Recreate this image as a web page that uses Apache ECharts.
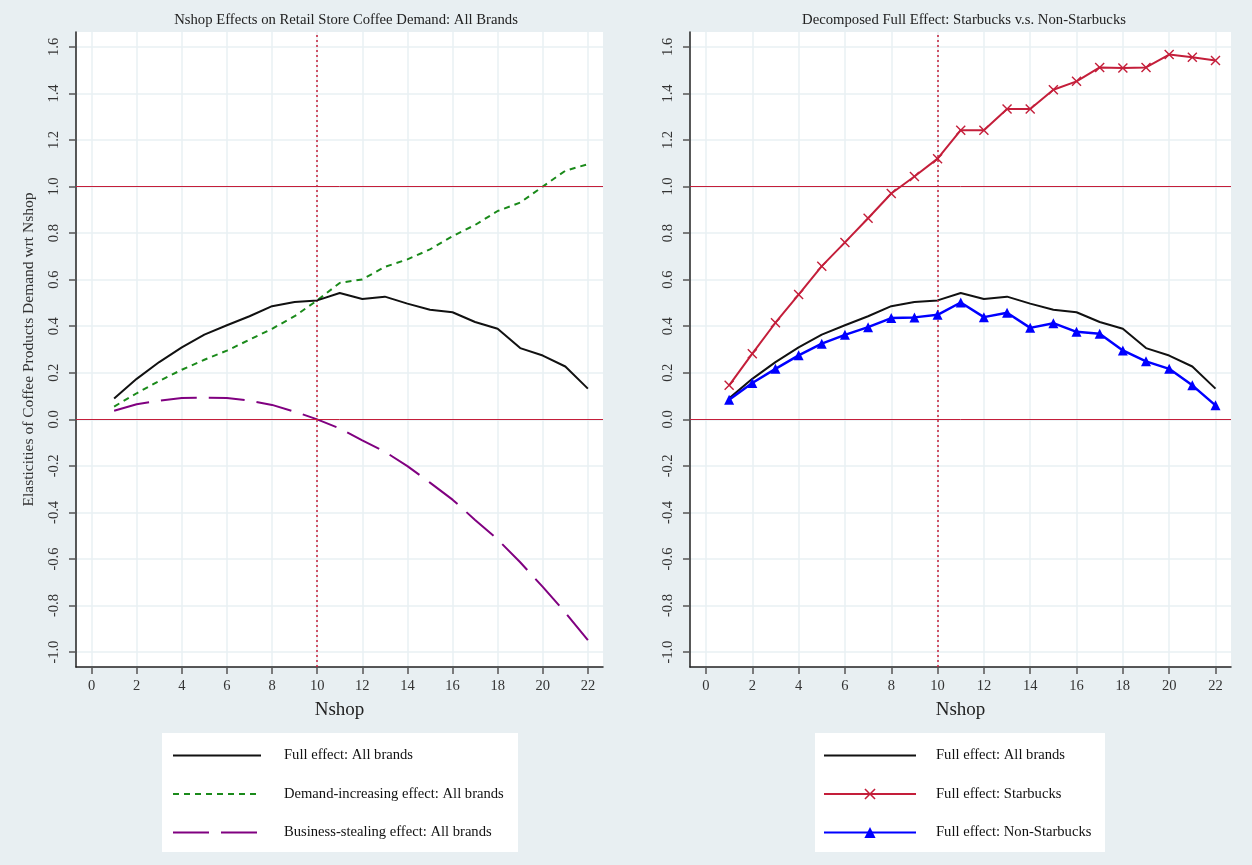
<html>
<head>
<meta charset="utf-8">
<script src="https://cdn.jsdelivr.net/npm/echarts@6/dist/echarts.min.js"></script>
<style>
html, body { margin: 0; padding: 0; background: #e8eff2; }
#main { width: 1252px; height: 865px; }
</style>
</head>
<body>
<div id="main"></div>
<script>
// data
var nshop = [1, 2, 3, 4, 5, 6, 7, 8, 9, 10, 11, 12, 13, 14, 15, 16, 17, 18, 19, 20, 21, 22];
var fullAll = [0.090, 0.174, 0.246, 0.309, 0.364, 0.404, 0.443, 0.486, 0.504, 0.511, 0.543,
    0.517, 0.527, 0.497, 0.471, 0.460, 0.418, 0.389, 0.306, 0.274, 0.227, 0.132];
var demandInc = [0.055, 0.112, 0.165, 0.213, 0.256, 0.295, 0.342, 0.389, 0.443, 0.511, 0.586,
    0.601, 0.655, 0.687, 0.730, 0.787, 0.835, 0.895, 0.931, 1.000, 1.068, 1.096];
var bizSteal = [0.037, 0.065, 0.080, 0.092, 0.093, 0.092, 0.080, 0.062, 0.033, 0.000, -0.039,
    -0.090, -0.139, -0.201, -0.272, -0.345, -0.432, -0.516, -0.614, -0.720, -0.830, -0.949];
var fullStarbucks = [0.146, 0.282, 0.415, 0.536, 0.658, 0.760, 0.864, 0.970, 1.043, 1.120, 1.242,
    1.242, 1.333, 1.333, 1.416, 1.452, 1.512, 1.509, 1.512, 1.567, 1.556, 1.542];
var fullNonStarbucks = [0.084, 0.156, 0.217, 0.275, 0.325, 0.363, 0.396, 0.435, 0.438, 0.449, 0.502,
    0.439, 0.458, 0.393, 0.413, 0.376, 0.368, 0.296, 0.249, 0.217, 0.146, 0.060];
var xTicks = [0, 2, 4, 6, 8, 10, 12, 14, 16, 18, 20, 22];
var yTicks = [-1.0, -0.8, -0.6, -0.4, -0.2, 0.0, 0.2, 0.4, 0.6, 0.8, 1.0, 1.2, 1.4, 1.6];

var serif = 'Liberation Serif';
var refColor = '#c41e3a';
var gridColor = '#e9f1f3';

function pairs(ys) {
    return nshop.map(function (x, i) { return [x, ys[i]]; });
}

function makeX(idx) {
    return {
        type: 'value', gridIndex: idx, min: -0.69, max: 22.67,
        name: 'Nshop', nameLocation: 'middle', nameGap: 34,
        nameTextStyle: { fontFamily: serif, fontSize: 19, color: '#222' },
        axisLine: { onZero: false, lineStyle: { color: '#222', width: 1.5 } },
        axisTick: { customValues: xTicks, length: 7, lineStyle: { color: '#555', width: 1.5 } },
        axisLabel: { customValues: xTicks, margin: 12, fontFamily: serif, fontSize: 14.5, color: '#333' },
        splitLine: { show: true, customValues: xTicks, lineStyle: { color: gridColor, width: 1.5 } }
    };
}

function makeY(idx, withName) {
    return {
        type: 'value', gridIndex: idx, min: -1.064, max: 1.664,
        name: withName ? 'Elasticities of Coffee Products Demand wrt Nshop' : '',
        nameLocation: 'middle', nameGap: 39,
        nameTextStyle: { fontFamily: serif, fontSize: 15.5, color: '#333' },
        axisLine: { show: true, onZero: false, lineStyle: { color: '#222', width: 1.5 } },
        axisTick: { show: true, customValues: yTicks, length: 7, lineStyle: { color: '#555', width: 1.5 } },
        axisLabel: {
            customValues: yTicks, rotate: 90, margin: 14, fontFamily: serif, fontSize: 14.5, color: '#333',
            formatter: function (v) { return v.toFixed(1); }
        },
        splitLine: { show: true, customValues: yTicks, lineStyle: { color: gridColor, width: 1.5 } }
    };
}

function refLines() {
    return {
        silent: true, symbol: 'none', label: { show: false },
        data: [
            { yAxis: 1, lineStyle: { color: refColor, width: 1, type: 'solid' } },
            { yAxis: 0, lineStyle: { color: refColor, width: 1, type: 'solid' } },
            { xAxis: 10, lineStyle: { color: refColor, width: 1.5, type: [2, 3] } }
        ]
    };
}

var crossPath = 'path://M1,0 L5,4 L9,0 L10,1 L6,5 L10,9 L9,10 L5,6 L1,10 L0,9 L4,5 L0,1 Z';
var noMark = { opacity: 0 };

var myChart = echarts.init(document.getElementById('main'));

myChart.setOption({
    backgroundColor: '#e8eff2',
    animation: false,
    title: [
        {
            text: 'Nshop Effects on Retail Store Coffee Demand: All Brands',
            left: 341, top: 8, textAlign: 'center',
            textStyle: { fontFamily: serif, fontSize: 14.7, fontWeight: 'normal', color: '#222' }
        },
        {
            text: 'Decomposed Full Effect: Starbucks v.s. Non-Starbucks',
            left: 959, top: 8, textAlign: 'center',
            textStyle: { fontFamily: serif, fontSize: 14.7, fontWeight: 'normal', color: '#222' }
        }
    ],
    graphic: [
        { type: 'rect', z: -1, shape: { x: 162, y: 733, width: 356, height: 119 }, style: { fill: '#fff' } },
        { type: 'rect', z: -1, shape: { x: 815, y: 733, width: 290, height: 119 }, style: { fill: '#fff' } }
    ],
    legend: [
        {
            orient: 'vertical', left: 172, top: 748, padding: 0, itemWidth: 88, itemHeight: 14, itemGap: 23.5,
            textStyle: { fontFamily: serif, fontSize: 14.6, color: '#111', padding: [0, 0, 0, 18] },
            data: [
                { name: 'Full effect: All brands', itemStyle: noMark },
                { name: 'Demand-increasing effect: All brands', itemStyle: noMark },
                { name: 'Business-stealing effect: All brands', itemStyle: noMark }
            ]
        },
        {
            orient: 'vertical', left: 823, top: 748, padding: 0, itemWidth: 92, itemHeight: 14, itemGap: 23.5,
            textStyle: { fontFamily: serif, fontSize: 14.6, color: '#111', padding: [0, 0, 0, 15] },
            data: [
                { name: 'Full effect: All brands', itemStyle: noMark },
                'Full effect: Starbucks',
                'Full effect: Non-Starbucks'
            ]
        }
    ],
    grid: [
        { left: 76, top: 32, width: 527, height: 635, show: true, backgroundColor: '#fff', borderWidth: 0 },
        { left: 690, top: 32, width: 541, height: 635, show: true, backgroundColor: '#fff', borderWidth: 0 }
    ],
    xAxis: [makeX(0), makeX(1)],
    yAxis: [makeY(0, true), makeY(1, false)],
    series: [
        {
            name: 'Full effect: All brands', type: 'line', xAxisIndex: 0, yAxisIndex: 0,
            data: pairs(fullAll), symbol: 'none', z: 5,
            lineStyle: { color: '#111', width: 2 }, itemStyle: { color: '#111' },
            markLine: refLines()
        },
        {
            name: 'Demand-increasing effect: All brands', type: 'line', xAxisIndex: 0, yAxisIndex: 0,
            data: pairs(demandInc), symbol: 'none', z: 4,
            lineStyle: { color: '#1a8a1a', width: 2, type: [6, 5] }, itemStyle: { color: '#1a8a1a' }
        },
        {
            name: 'Business-stealing effect: All brands', type: 'line', xAxisIndex: 0, yAxisIndex: 0,
            data: pairs(bizSteal), symbol: 'none', z: 4,
            lineStyle: { color: '#800080', width: 2, type: [36, 12] }, itemStyle: { color: '#800080' }
        },
        {
            name: 'Full effect: All brands', type: 'line', xAxisIndex: 1, yAxisIndex: 1,
            data: pairs(fullAll), symbol: 'none', z: 4,
            lineStyle: { color: '#111', width: 2 }, itemStyle: { color: '#111' },
            markLine: refLines()
        },
        {
            name: 'Full effect: Starbucks', type: 'line', xAxisIndex: 1, yAxisIndex: 1,
            data: pairs(fullStarbucks), symbol: crossPath, symbolSize: 10, z: 5,
            lineStyle: { color: refColor, width: 2 }, itemStyle: { color: refColor }
        },
        {
            name: 'Full effect: Non-Starbucks', type: 'line', xAxisIndex: 1, yAxisIndex: 1,
            data: pairs(fullNonStarbucks), symbol: 'triangle', symbolSize: 10, z: 5,
            lineStyle: { color: '#0000ff', width: 2.5 }, itemStyle: { color: '#0000ff' }
        }
    ]
});
</script>
</body>
</html>
